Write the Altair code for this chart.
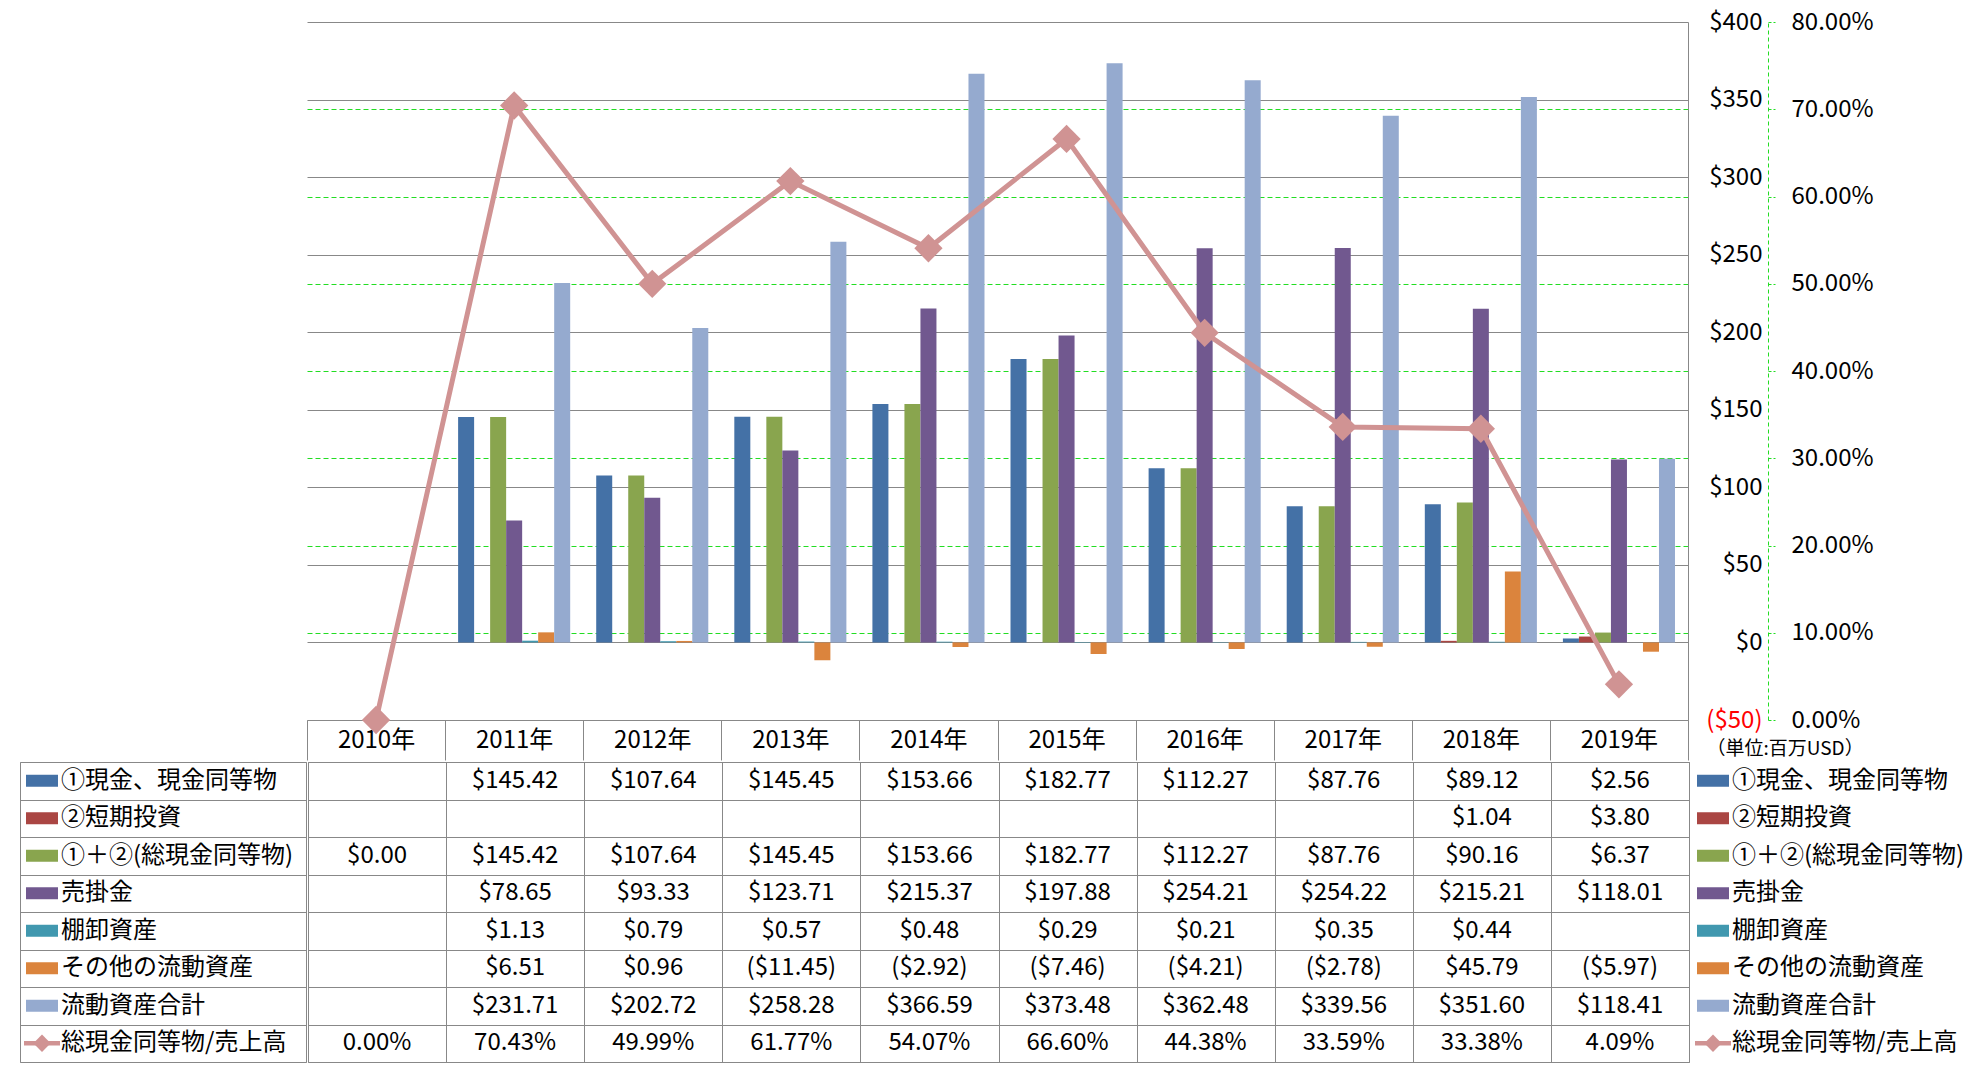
import altair as alt
import pandas as pd

FONT = "Noto Sans CJK JP"
GRAY = "#888888"
GREEN = "#22DD22"

years = ["2010年", "2011年", "2012年", "2013年", "2014年", "2015年", "2016年", "2017年", "2018年", "2019年"]
bar_series = ["①現金、現金同等物", "②短期投資", "①＋②(総現金同等物)", "売掛金", "棚卸資産", "その他の流動資産", "流動資産合計"]
line_name = "総現金同等物/売上高"
all_series = bar_series + [line_name]

cash = [None, 145.42, 107.64, 145.45, 153.66, 182.77, 112.27, 87.76, 89.12, 2.56]
short_inv = [None, None, None, None, None, None, None, None, 1.04, 3.80]
total_cash = [0.00, 145.42, 107.64, 145.45, 153.66, 182.77, 112.27, 87.76, 90.16, 6.37]
receivable = [None, 78.65, 93.33, 123.71, 215.37, 197.88, 254.21, 254.22, 215.21, 118.01]
inventory = [None, 1.13, 0.79, 0.57, 0.48, 0.29, 0.21, 0.35, 0.44, None]
other_assets = [None, 6.51, 0.96, -11.45, -2.92, -7.46, -4.21, -2.78, 45.79, -5.97]
current_total = [None, 231.71, 202.72, 258.28, 366.59, 373.48, 362.48, 339.56, 351.60, 118.41]
ratio = [0.00, 70.43, 49.99, 61.77, 54.07, 66.60, 44.38, 33.59, 33.38, 4.09]

colors = ["#4471A6", "#AA4643", "#89A54E", "#71588F", "#4198AF", "#DB843D", "#95AACF", "#D09393"]
usd_ticks = [-50, 0, 50, 100, 150, 200, 250, 300, 350, 400]
pct_ticks = [0, 10, 20, 30, 40, 50, 60, 70, 80]

PLOT_W = 1381
PLOT_H = 698
HEADER = 40
TABLE_H = 300
LABEL_W = 286
LEGEND_W = 270
FS = 24

bar_values = [cash, short_inv, total_cash, receivable, inventory, other_assets, current_total]

bar_rows = []
for s, vals in zip(bar_series, bar_values):
    for y, v in zip(years, vals):
        if v is not None:
            bar_rows.append({"series": s, "year": y, "value": v})
bars_df = pd.DataFrame(bar_rows)
line_df = pd.DataFrame({"year": years, "ratio": ratio})


def money(v):
    return f"(${abs(v):.2f})" if v < 0 else f"${v:.2f}"


table_rows = []
for s, vals in zip(bar_series, bar_values):
    for y, v in zip(years, vals):
        if v is not None:
            table_rows.append({"row": s, "year": y, "text": money(v)})
for y, v in zip(years, ratio):
    table_rows.append({"row": line_name, "year": y, "text": f"{v:.2f}%"})
table_df = pd.DataFrame(table_rows)

color_scale = alt.Scale(domain=all_series, range=colors)
no_view = alt.ViewBackground(strokeOpacity=0, strokeWidth=0)

# ---------- main plot ----------
x_main = alt.X(
    "year:N", sort=years,
    scale=alt.Scale(domain=years, paddingInner=0, paddingOuter=0),
    axis=alt.Axis(title=None, orient="bottom", labelAngle=0, labelFont=FONT, labelFontSize=FS,
                  labelColor="black", labelBaseline="middle", labelPadding=-20,
                  tickBand="extent", ticks=True, tickSize=HEADER, tickColor=GRAY, tickOpacity=1,
                  domain=True, domainColor=GRAY, domainOpacity=1, grid=False),
)

usd_axis = alt.Axis(
    orient="right", values=usd_ticks,
    labelExpr="datum.value < 0 ? '($' + abs(datum.value) + ')' : '$' + datum.value",
    labelColor={"condition": {"test": "datum.value < 0", "value": "#FF0000"}, "value": "#000000"},
    labelFont=FONT, labelFontSize=FS, labelAlign="right", labelPadding=74,
    ticks=False, tickSize=0, domain=True, domainColor=GRAY, domainOpacity=1,
    grid=True, gridColor=GRAY, gridWidth=1,
    title="（単位:百万USD）", titleAngle=0, titleAlign="left", titleBaseline="middle",
    titleX=18, titleY=PLOT_H + 28, titleFont=FONT, titleFontSize=19,
    titleFontWeight="normal", titleColor="black",
)

pct_axis = alt.Axis(
    orient="right", offset=80, values=pct_ticks, title=None,
    labelExpr="format(datum.value, '.2f') + '%'",
    labelFont=FONT, labelFontSize=FS, labelColor="black", labelAlign="left", labelPadding=16,
    domain=True, domainColor=GREEN, domainDash=[4, 3], domainOpacity=1,
    ticks=True, tickColor=GREEN, tickDash=[3, 2], tickSize=7, tickOpacity=1,
    grid=True, gridColor=GREEN, gridDash=[5, 3],
    gridOpacity={"condition": {"test": "datum.value == 0 || datum.value == 80", "value": 0}, "value": 1},
)

bars = alt.Chart(bars_df).mark_bar().encode(
    x=x_main,
    xOffset=alt.XOffset("series:N", sort=bar_series,
                        scale=alt.Scale(domain=bar_series, paddingInner=0, paddingOuter=0.8125)),
    y=alt.Y("value:Q", scale=alt.Scale(domain=[-50, 400], nice=False, zero=True), axis=usd_axis),
    color=alt.Color("series:N", scale=color_scale, legend=None),
)

line = alt.Chart(line_df).mark_line(color=colors[7], strokeWidth=5).encode(
    x=x_main,
    y=alt.Y("ratio:Q", scale=alt.Scale(domain=[0, 80], nice=False), axis=pct_axis),
)
pts = alt.Chart(line_df).mark_point(shape="diamond", filled=True, size=800, color=colors[7], opacity=1).encode(
    x=x_main,
    y=alt.Y("ratio:Q", axis=pct_axis),
)

main = alt.layer(bars, alt.layer(line, pts)).resolve_scale(y="independent").properties(
    width=PLOT_W, height=PLOT_H, view=no_view)

spacer = alt.Chart(pd.DataFrame({"a": [0]})).mark_point(opacity=0).properties(
    width=LABEL_W, height=PLOT_H, view=no_view)

# ---------- data table ----------
table = alt.Chart(table_df).mark_text(font=FONT, fontSize=FS, color="black", baseline="middle").encode(
    x=alt.X("year:N", scale=alt.Scale(domain=years, paddingInner=0, paddingOuter=0),
            axis=alt.Axis(title=None, orient="top", labels=False, ticks=False, domain=False,
                          grid=True, gridColor=GRAY, tickBand="extent")),
    y=alt.Y("row:N", scale=alt.Scale(domain=all_series, paddingInner=0, paddingOuter=0),
            axis=alt.Axis(title=None, labels=False, ticks=False, domain=False,
                          grid=True, gridColor=GRAY, tickBand="extent")),
    text="text:N",
).properties(width=PLOT_W, height=TABLE_H,
             view=alt.ViewBackground(stroke=GRAY, strokeOpacity=1, strokeWidth=1))

RECT_PATH = "M-1,-0.375H1V0.375H-1Z"
LINE_PATH = "M-1,-0.12H1V0.12H-1Z"
keys_df = pd.DataFrame({"series": all_series})


def key_column(width, border, sw_x, text_x):
    if border:
        yax = alt.Axis(title=None, labels=False, ticks=False, domain=False,
                       grid=True, gridColor=GRAY, tickBand="extent")
    else:
        yax = None
    yenc = alt.Y("series:N", scale=alt.Scale(domain=all_series, paddingInner=0, paddingOuter=0), axis=yax)
    base = alt.Chart(keys_df)
    txt = base.mark_text(align="left", baseline="middle", font=FONT, fontSize=FS, color="black").encode(
        y=yenc, x=alt.value(text_x), text="series:N")
    sw = base.transform_filter(alt.datum.series != line_name).mark_point(
        shape=RECT_PATH, filled=True, size=1024, opacity=1).encode(
        y=yenc, x=alt.value(sw_x), color=alt.Color("series:N", scale=color_scale, legend=None))
    ln = base.transform_filter(alt.datum.series == line_name).mark_point(
        shape=LINE_PATH, filled=True, size=1296, opacity=1, color=colors[7]).encode(
        y=yenc, x=alt.value(sw_x))
    dm = base.transform_filter(alt.datum.series == line_name).mark_point(
        shape="diamond", filled=True, size=300, opacity=1, color=colors[7]).encode(
        y=yenc, x=alt.value(sw_x))
    props = dict(width=width, height=TABLE_H)
    if border:
        props["view"] = alt.ViewBackground(stroke=GRAY, strokeOpacity=1, strokeWidth=1)
    else:
        props["view"] = no_view
    return alt.layer(sw, ln, dm, txt).properties(**props)


labels = key_column(LABEL_W, True, 22, 41)
legend = key_column(LEGEND_W, False, 23, 42)

row1 = alt.hconcat(spacer, main, spacing=0)
row2 = alt.hconcat(labels, table, legend, spacing=0)

chart = (
    alt.vconcat(row1, row2, spacing=0)
    .properties(padding={"left": 11, "top": 2, "right": 0, "bottom": 0}, background="white")
    .configure(font=FONT)
    .configure_view(strokeOpacity=0, strokeWidth=0)
    .configure_axis(domainOpacity=0, tickOpacity=0)
    .configure_axisLeft(domain=False, ticks=False, labels=False)
)

chart.save("out.html", embed_options={"renderer": "svg", "actions": False})
